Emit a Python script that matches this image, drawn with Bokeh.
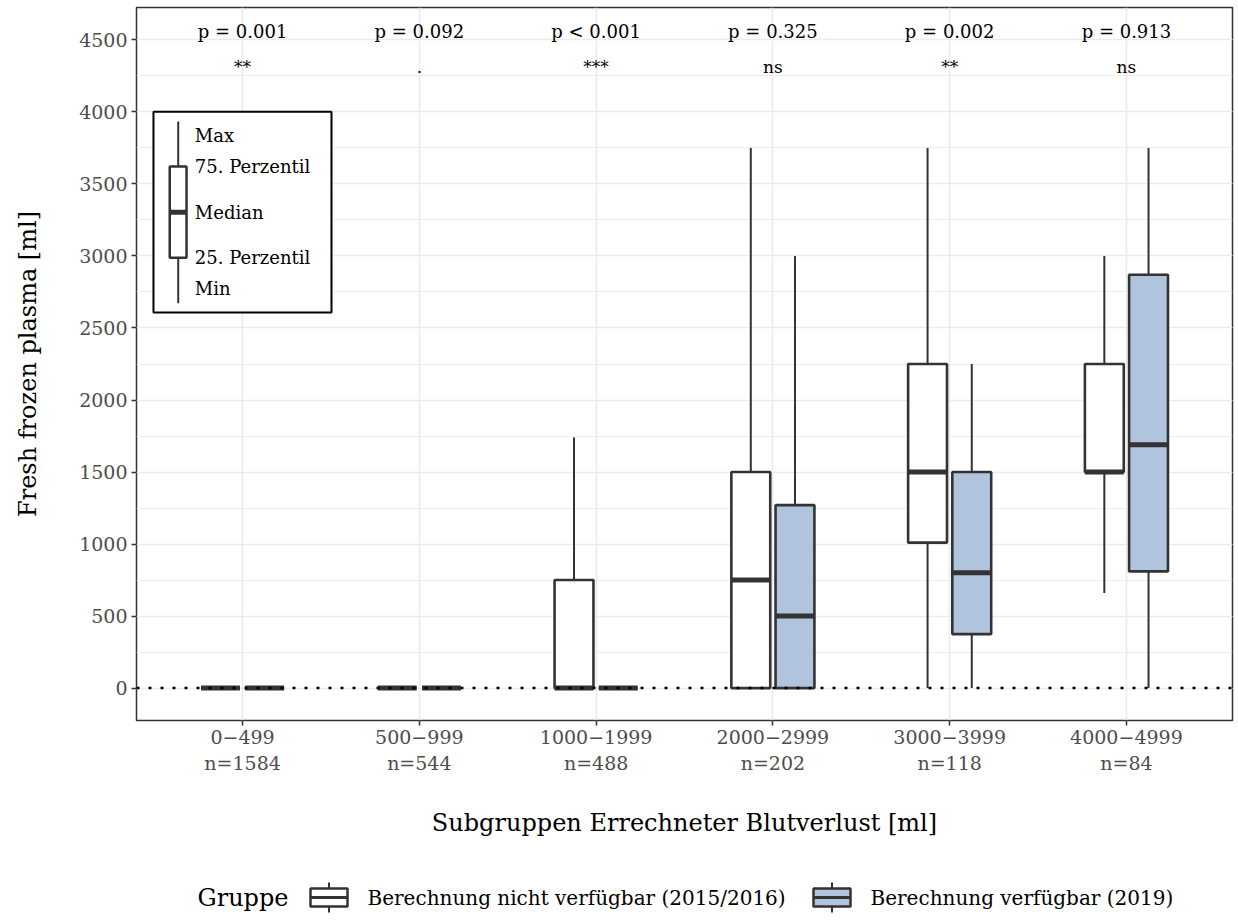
import numpy as np
from bokeh.plotting import figure
from bokeh.layouts import column
from bokeh.models import (ColumnDataSource, Range1d, FixedTicker, SingleIntervalTicker, Span)
from bokeh.core.properties import value
from bokeh.embed import file_html
from bokeh.resources import INLINE

# ---------------- data ----------------
categories = ["0−499", "500−999", "1000−1999", "2000−2999", "3000−3999", "4000−4999"]
n_counts = [1584, 544, 488, 202, 118, 84]
p_labels = ["p = 0.001", "p = 0.092", "p < 0.001", "p = 0.325", "p = 0.002", "p = 0.913"]
signif = ["**", ".", "***", "ns", "**", "ns"]
groups = ["Berechnung nicht verfügbar (2015/2016)", "Berechnung verfügbar (2019)"]
legend_title = "Gruppe"

# Gruppe 2015/2016
a_min = [0, 0, 0, 0, 0, 660]
a_q1 = [0, 0, 0, 0, 1010, 1500]
a_med = [0, 0, 0, 750, 1500, 1500]
a_q3 = [0, 0, 750, 1500, 2250, 2250]
a_max = [0, 0, 1740, 3750, 3750, 3000]

# Gruppe 2019
b_min = [0, 0, 0, 0, 0, 0]
b_q1 = [0, 0, 0, 0, 375, 810]
b_med = [0, 0, 0, 500, 800, 1690]
b_q3 = [0, 0, 0, 1270, 1500, 2870]
b_max = [0, 0, 0, 3000, 2250, 3750]

inset_labels = ["Max", "75. Perzentil", "Median", "25. Perzentil", "Min"]

# ---------------- style ----------------
FONT = "DejaVu Serif"
LINE = "#333333"
GRID = "#EBEBEB"
FILLS = ["#FFFFFF", "#B0C4DE"]
BOX_W = 0.22
DODGE = 0.125
W = 1236
FRAME_L, FRAME_R = 136, 1232

xs = np.arange(1, len(categories) + 1)

p = figure(width=W, height=860,
           x_range=Range1d(0.4, 6.6), y_range=Range1d(-225, 4725),
           output_backend="svg", toolbar_location=None,
           min_border_left=FRAME_L, min_border_right=W - FRAME_R,
           min_border_top=7, min_border_bottom=140,
           background_fill_color="white", border_fill_color="white")

p.outline_line_color = LINE
p.outline_line_width = 1.5

# grids
p.xgrid.ticker = FixedTicker(ticks=[int(v) for v in xs])
p.xgrid.grid_line_color = GRID
p.xgrid.grid_line_width = 1.6
yticker = SingleIntervalTicker(interval=500, num_minor_ticks=2)
p.yaxis.ticker = yticker
p.ygrid.ticker = yticker
p.ygrid.grid_line_color = GRID
p.ygrid.grid_line_width = 1.6
p.ygrid.minor_grid_line_color = GRID
p.ygrid.minor_grid_line_width = 0.9

# axes
p.xaxis.ticker = FixedTicker(ticks=[int(v) for v in xs])
p.xaxis.major_label_overrides = {int(v): f"{c}\nn={n}" for v, c, n in zip(xs, categories, n_counts)}
for ax in (p.xaxis[0], p.yaxis[0]):
    ax.axis_line_color = None
    ax.major_tick_line_color = LINE
    ax.major_tick_line_width = 1.5
    ax.major_tick_out = 5
    ax.major_tick_in = 0
    ax.minor_tick_line_color = None
    ax.major_label_text_font = FONT
    ax.major_label_text_font_size = "19px"
    ax.major_label_text_color = "#4D4D4D"
    ax.axis_label_text_font = FONT
    ax.axis_label_text_font_size = "24px"
    ax.axis_label_text_font_style = "normal"
    ax.axis_label_text_color = "black"
p.xaxis.major_label_standoff = 0
p.yaxis.major_label_standoff = 4
p.xaxis.axis_label = "Subgruppen Errechneter Blutverlust [ml]"
p.yaxis.axis_label = "Fresh frozen plasma [ml]"
p.xaxis.axis_label_standoff = 32
p.yaxis.axis_label_standoff = 34

# ---------------- boxes ----------------
for gi, (mn, q1, md, q3, mx) in enumerate([(a_min, a_q1, a_med, a_q3, a_max),
                                           (b_min, b_q1, b_med, b_q3, b_max)]):
    off = -DODGE if gi == 0 else DODGE
    xc = xs + off
    src = ColumnDataSource(dict(x=xc, xl=xc - BOX_W / 2, xr=xc + BOX_W / 2,
                                mn=mn, q1=q1, md=md, q3=q3, mx=mx))
    p.segment(x0="x", y0="q3", x1="x", y1="mx", source=src, line_color=LINE, line_width=2)
    p.segment(x0="x", y0="mn", x1="x", y1="q1", source=src, line_color=LINE, line_width=2)
    p.vbar(x="x", width=BOX_W, bottom="q1", top="q3", source=src,
           fill_color=FILLS[gi], line_color=LINE, line_width=2.6)
    p.segment(x0="xl", y0="md", x1="xr", y1="md", source=src,
              line_color=LINE, line_width=5)

# zero reference line
p.add_layout(Span(location=0, dimension="width", line_color="black",
                  line_width=2.5, line_dash="3 9"))

# p-values and significance codes
p.text(x=xs, y=4560, text=p_labels, text_font=value(FONT), text_font_size="18px",
       text_align="center", text_baseline="alphabetic", text_color="black")
p.text(x=xs, y=4310, text=signif, text_font=value(FONT), text_font_size="17px",
       text_align="center", text_baseline="alphabetic", text_color="black")

# ---------------- explanatory inset (boxplot legend) ----------------
p.quad(left=0.496, right=1.503, bottom=2607, top=4001,
       fill_color="white", line_color="black", line_width=2)
p.segment(x0=0.636, y0=2672, x1=0.636, y1=3934, line_color=LINE, line_width=2)
p.quad(left=0.588, right=0.683, bottom=2987, top=3622,
       fill_color="white", line_color=LINE, line_width=2.5)
p.segment(x0=0.588, y0=3303, x1=0.683, y1=3303, line_color=LINE, line_width=5)
p.text(x=[0.730] * 5, y=[3835, 3622, 3303, 2989, 2774], text=inset_labels,
       text_font=value(FONT), text_font_size="18px", text_align="left",
       text_baseline="middle", text_color="black")

# ---------------- group legend strip (page-pixel x, y downwards) ----------------
# the column layout aligns this strip's frame with the main frame, so its x range
# is set to the main frame's pixel span
lg = figure(width=W, height=58, x_range=Range1d(FRAME_L, FRAME_R), y_range=Range1d(58, 0),
            x_axis_type=None, y_axis_type=None, output_backend="svg",
            toolbar_location=None, min_border_left=FRAME_L, min_border_right=W - FRAME_R,
            min_border_top=0, min_border_bottom=0, outline_line_color=None,
            background_fill_color="white", border_fill_color="white")
key_left = [310, 813]
key_w = 37
label_x = [367, 870]
yc = 37
kx = [k + key_w / 2 for k in key_left]
lg.segment(x0=kx, y0=[yc - 15] * 2, x1=kx, y1=[yc + 15] * 2, line_color=LINE, line_width=2)
lg.quad(left=key_left, right=[k + key_w for k in key_left], top=[yc - 9] * 2,
        bottom=[yc + 9] * 2, fill_color=FILLS, line_color=LINE, line_width=2.5)
lg.segment(x0=key_left, y0=[yc] * 2, x1=[k + key_w for k in key_left], y1=[yc] * 2,
           line_color=LINE, line_width=3)
lg.text(x=label_x, y=[yc] * 2, text=groups, text_font=value(FONT), text_font_size="20px",
        text_align="left", text_baseline="middle", text_color="black")
lg.text(x=[197], y=[yc], text=[legend_title], text_font=value(FONT), text_font_size="24px",
        text_align="left", text_baseline="middle", text_color="black")

layout = column(p, lg, spacing=0)
open("out.html", "w").write(file_html(layout, INLINE))
